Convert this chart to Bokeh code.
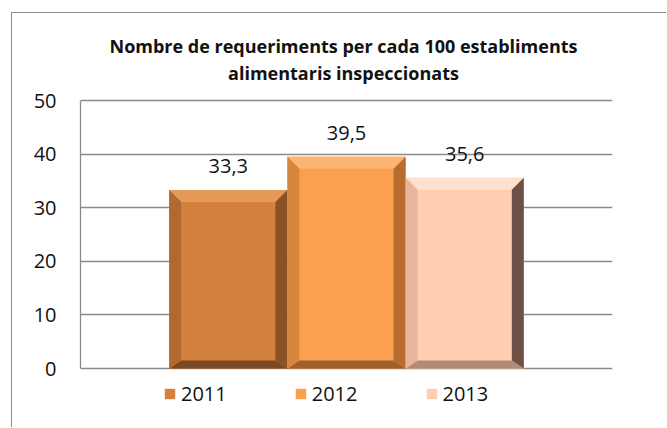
from bokeh.plotting import figure
from bokeh.models import Range1d, ColumnDataSource, Label, FixedTicker
from bokeh.embed import file_html
from bokeh.resources import INLINE
from bokeh.core.properties import value

# ---- data ----
years = ["2011", "2012", "2013"]
values = [33.3, 39.5, 35.6]
value_labels = ["33,3", "39,5", "35,6"]
title_lines = ["Nombre de requeriments per cada 100 establiments",
               "alimentaris inspeccionats"]
y_ticks = [0, 10, 20, 30, 40, 50]

# ---- styles ----
FONT = "Open Sans"
body_colors = ["#D5813E", "#FBA04F", "#FFCDB0"]
top_colors = ["#E59B57", "#FDB470", "#FFE0CE"]
left_colors = ["#B06A31", "#D8863D", "#E8B59A"]
right_colors = ["#8A5226", "#B86C2D", "#6E5046"]
bottom_colors = ["#7A4921", "#A0602A", "#B08B7A"]
GRID = "#8A8A8A"

# page-pixel layout
CX0, CY0 = 12, 13            # canvas origin on the page
W, H = 655, 415
AX_LEFT, AX_RIGHT = 80, 612  # plot area (page px)
Y50, Y0 = 100, 368           # page y of 50 and of 0
Y_MAX = 50
PX_PER_Y = (Y0 - Y50) / Y_MAX
FRAME_W = AX_RIGHT - AX_LEFT
ML = AX_LEFT - CX0
MR = W - (AX_RIGHT - CX0)
y_end = Y_MAX + (Y50 - CY0) / PX_PER_Y
y_start = -((CY0 + H) - Y0) / PX_PER_Y

p = figure(width=W, height=H, x_range=Range1d(-0.5, 0.5), y_range=Range1d(y_start, y_end),
           output_backend="svg", toolbar_location=None, x_axis_location=None,
           min_border_left=ML, min_border_right=MR, min_border_top=0, min_border_bottom=0)
p.styles = {"margin-left": "11px", "margin-top": "12px",
            "border-left": "1px solid #8C8C8C", "border-top": "1px solid #8C8C8C"}
p.outline_line_color = None
p.background_fill_color = "white"
p.border_fill_color = "white"
p.xgrid.visible = False
p.ygrid.grid_line_color = GRID
p.ygrid.grid_line_width = 1.3
p.yaxis.ticker = FixedTicker(ticks=y_ticks)
p.yaxis.bounds = (0, Y_MAX)
p.yaxis.axis_line_color = GRID
p.yaxis.axis_line_width = 1.3
p.yaxis.major_tick_line_color = None
p.yaxis.minor_tick_line_color = None
p.yaxis.major_label_standoff = 18
p.yaxis.major_label_text_font = FONT
p.yaxis.major_label_text_font_size = "20px"
p.yaxis.major_label_text_color = "#111111"

# bar geometry (Excel gap width 150%)
n = len(years)
bw = 1.0 / (n + 1.5)
xs_center = [(i - (n - 1) / 2) * bw for i in range(n)]

src = ColumnDataSource(dict(x=xs_center, top=values, year=years, color=body_colors, lab=value_labels))
p.vbar(x="x", top="top", bottom=0, width=bw, source=src, fill_color="color", line_color=None,
       legend_field="year")

bx = 12 / FRAME_W
bt = 12 / PX_PER_Y
bb = 8 / PX_PER_Y
pxs, pys, pcs = [], [], []
for i in range(n):
    x0 = xs_center[i] - bw / 2
    x1 = xs_center[i] + bw / 2
    h = values[i]
    pxs.append([x0, x1, x1 - bx, x0 + bx]); pys.append([h, h, h - bt, h - bt]); pcs.append(top_colors[i])
    pxs.append([x0, x1, x1 - bx, x0 + bx]); pys.append([0, 0, bb, bb]); pcs.append(bottom_colors[i])
    pxs.append([x0, x0, x0 + bx, x0 + bx]); pys.append([0, h, h - bt, bb]); pcs.append(left_colors[i])
    pxs.append([x1, x1, x1 - bx, x1 - bx]); pys.append([0, h, h - bt, bb]); pcs.append(right_colors[i])
p.patches(xs=pxs, ys=pys, fill_color=pcs, line_color=None)

# value labels
p.text(x="x", y="top", text="lab", source=src, text_align="center", text_baseline="middle",
       y_offset=-24, text_font=value(FONT), text_font_size="20px", text_color="#111111")

# title (two lines above the plot area)
for k, line in enumerate(title_lines):
    page_y = [45, 72][k]
    ydata = (Y0 - page_y) / PX_PER_Y
    p.add_layout(Label(x=0, y=ydata, text=line, text_align="center", text_baseline="middle",
                       x_offset=-3, text_font=FONT, text_font_style="bold",
                       text_font_size="18px", text_color="#111111"))

lg = p.legend[0]
lg.orientation = "horizontal"
lg.location = (163 - AX_LEFT, (CY0 + H) - 407)
lg.glyph_width = 13
lg.glyph_height = 13
lg.label_standoff = 5
lg.spacing = 67
lg.padding = 0
lg.margin = 0
lg.border_line_color = None
lg.background_fill_alpha = 0
lg.label_text_font = FONT
lg.label_text_font_size = "20px"
lg.label_text_color = "#111111"

open("out.html", "w").write(file_html(p, INLINE))
